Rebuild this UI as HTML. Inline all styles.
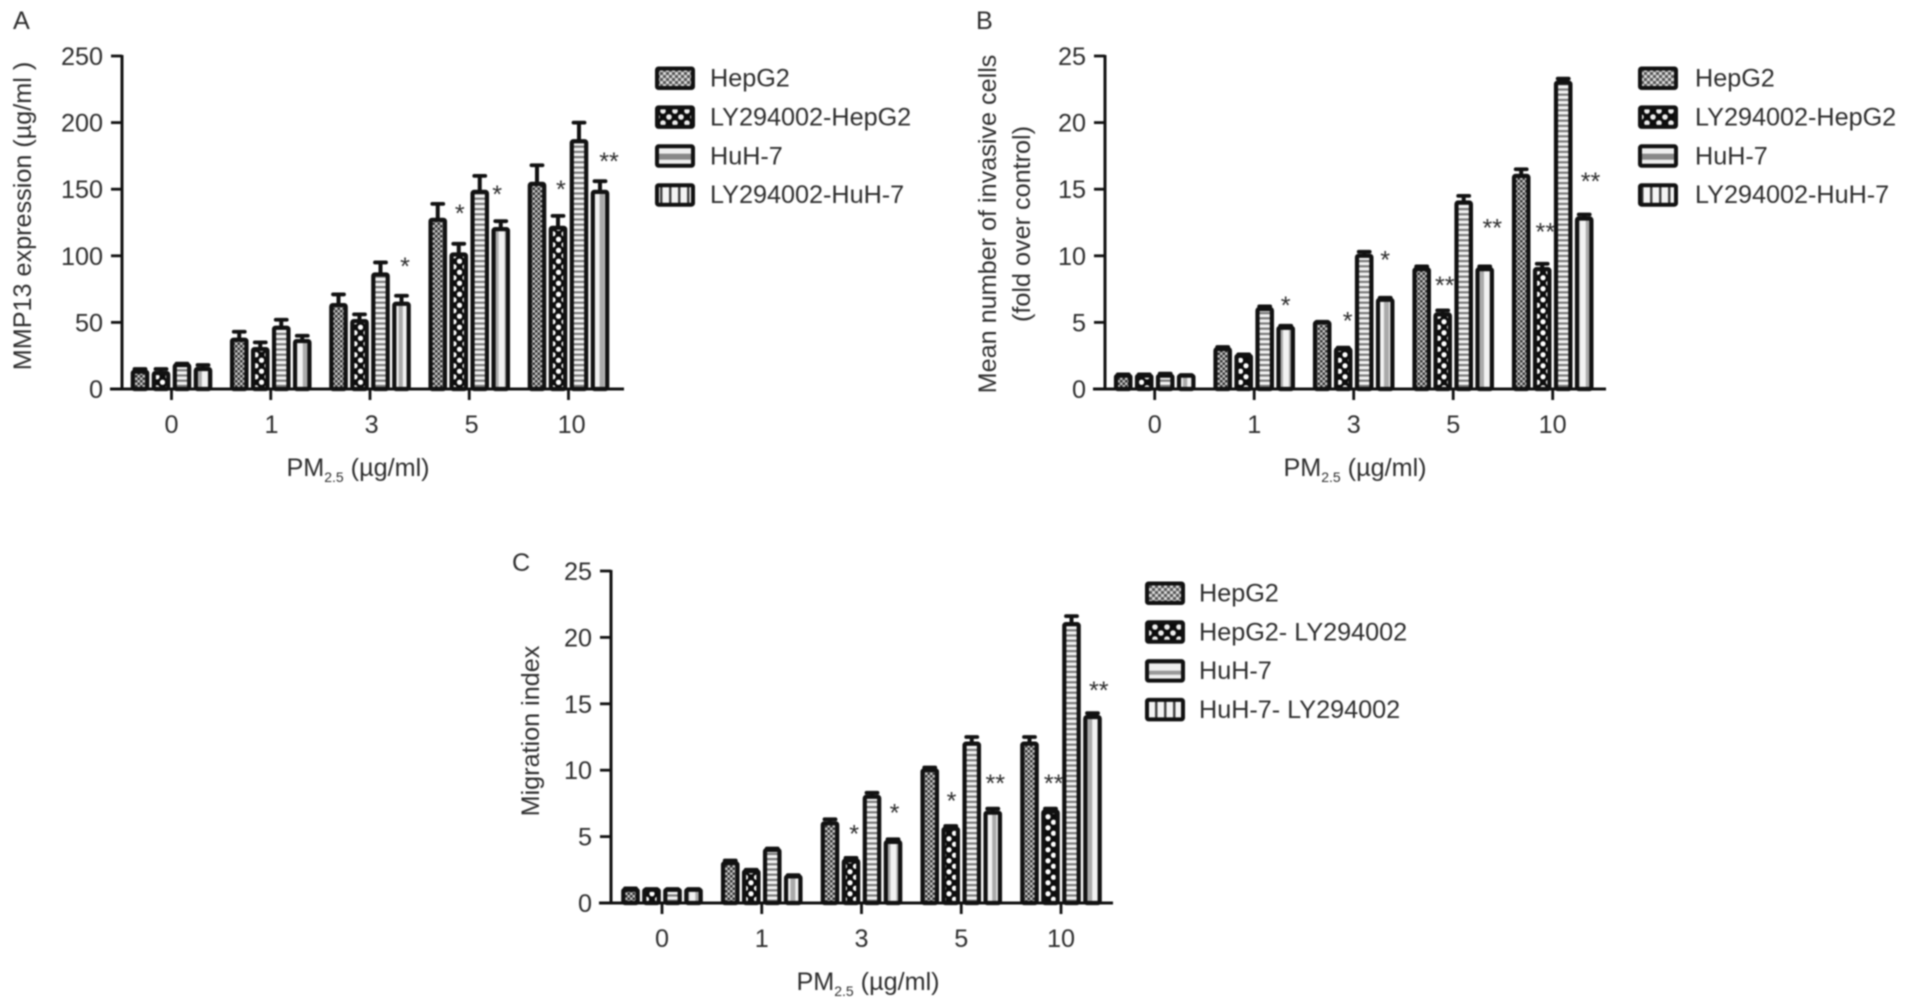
<!DOCTYPE html>
<html lang="en">
<head>
<meta charset="utf-8">
<title>PM2.5 bar charts</title>
<style>
html,body{margin:0;padding:0;background:#fff;width:1908px;height:1008px;overflow:hidden}
svg{display:block;filter:blur(0.8px)}
text{font-family:"Liberation Sans",sans-serif;fill:#2e2e2e;font-size:25.2px}
</style>
</head>
<body>
<svg id="figure" xmlns="http://www.w3.org/2000/svg" width="1908" height="1008" viewBox="0 0 1908 1008">
<defs>
<pattern id="p-hep" patternUnits="userSpaceOnUse" width="5" height="5"><rect width="5" height="5" fill="#c8c8c8"/><rect width="2.5" height="2.5" fill="#333"/><rect x="2.5" y="2.5" width="2.5" height="2.5" fill="#333"/></pattern>
<pattern id="p-ly" patternUnits="userSpaceOnUse" width="11" height="11"><rect width="11" height="11" fill="#0c0c0c"/><circle cx="3" cy="2.75" r="2.6" fill="#fff"/><circle cx="8.5" cy="8.25" r="2.6" fill="#fff"/></pattern>
<pattern id="p-huh" patternUnits="userSpaceOnUse" width="5.2" height="5.2"><rect width="5.2" height="5.2" fill="#f4f4f4"/><rect width="5.2" height="2.2" fill="#777"/></pattern>
<pattern id="p-lyh" patternUnits="userSpaceOnUse" width="21.2" height="6"><rect width="21.2" height="6" fill="#f2f2f2"/><rect x="6" width="5" height="6" fill="#aaa"/><rect x="17" width="4.2" height="6" fill="#aaa"/></pattern>
<pattern id="l-hep" patternUnits="userSpaceOnUse" width="6" height="6"><rect width="6" height="6" fill="#d8d8d8"/><rect width="3" height="3" fill="#555"/><rect x="3" y="3" width="3" height="3" fill="#555"/></pattern>
<pattern id="l-ly" patternUnits="userSpaceOnUse" width="12" height="12"><rect width="12" height="12" fill="#0c0c0c"/><circle cx="3" cy="3" r="2.8" fill="#eee"/><circle cx="9" cy="9" r="2.8" fill="#eee"/></pattern>
<pattern id="l-huh" patternUnits="userSpaceOnUse" width="40" height="24" y="66.7"><rect width="40" height="24" fill="#eee"/><rect y="4" width="40" height="4" fill="#999"/><rect y="15" width="40" height="6" fill="#888"/></pattern>
<pattern id="l-lyh" patternUnits="userSpaceOnUse" width="9" height="9"><rect width="9" height="9" fill="#f4f4f4"/><rect x="3" width="2.5" height="9" fill="#444"/></pattern>
</defs>
</svg>
<script>
var categories = ['0', '1', '3', '5', '10'];

var aYTicks = [0, 50, 100, 150, 200, 250];
var aHepG2 = [13, 37, 63, 127, 154];
var aLyHepG2 = [12, 30, 51, 101, 121];
var aHuh7 = [18, 46, 86, 148, 186];
var aLyHuh7 = [15, 36, 64, 120, 148];
var aHepG2Err = [2, 6, 8, 12, 14];
var aLyHepG2Err = [3, 5, 5, 8, 9];
var aHuh7Err = [1, 6, 9, 12, 14];
var aLyHuh7Err = [3, 4, 6, 6, 8];
var aStarGroups = [2, 3, 3, 4, 4];
var aStarSlots = [3.17, 1.05, 2.83, 1.14, 3.43];
var aStarValues = [93, 133, 147, 151, 172];
var aStarLabels = ['*', '*', '*', '*', '**'];
var aLegend = ['HepG2', 'LY294002-HepG2', 'HuH-7', 'LY294002-HuH-7'];

var bYTicks = [0, 5, 10, 15, 20, 25];
var bHepG2 = [1, 3, 5, 9, 16];
var bLyHepG2 = [1, 2.5, 3, 5.6, 9];
var bHuh7 = [1, 6, 10, 14, 23];
var bLyHuh7 = [1, 4.6, 6.7, 9, 12.8];
var bHepG2Err = [0.1, 0.15, 0.05, 0.2, 0.5];
var bLyHepG2Err = [0.1, 0.1, 0.1, 0.3, 0.4];
var bHuh7Err = [0.15, 0.2, 0.3, 0.5, 0.3];
var bLyHuh7Err = [0.05, 0.15, 0.15, 0.2, 0.3];
var bStarGroups = [1, 2, 2, 3, 3, 4, 4];
var bStarSlots = [3.0, 1.21, 3.0, 1.1, 3.36, 1.15, 3.3];
var bStarValues = [6.4, 5.2, 9.8, 7.9, 12.2, 11.9, 15.7];
var bStarLabels = ['*', '*', '*', '**', '**', '**', '**'];
var bLegend = ['HepG2', 'LY294002-HepG2', 'HuH-7', 'LY294002-HuH-7'];

var cYTicks = [0, 5, 10, 15, 20, 25];
var cHepG2 = [1, 3, 6, 10, 12];
var cLyHepG2 = [1, 2.4, 3.2, 5.6, 6.9];
var cHuh7 = [1, 4, 8, 12, 21];
var cLyHuh7 = [1, 2, 4.6, 6.8, 14];
var cHepG2Err = [0.1, 0.2, 0.3, 0.2, 0.5];
var cLyHepG2Err = [0.05, 0.1, 0.2, 0.2, 0.2];
var cHuh7Err = [0.05, 0.1, 0.3, 0.5, 0.6];
var cLyHuh7Err = [0.05, 0.1, 0.2, 0.3, 0.3];
var cStarGroups = [2, 2, 3, 3, 4, 4];
var cStarSlots = [1.15, 3.07, 1.04, 3.12, 1.15, 3.3];
var cStarValues = [5.3, 6.9, 7.8, 9.1, 9.1, 16.1];
var cStarLabels = ['*', '*', '*', '**', '**', '**'];
var cLegend = ['HepG2', 'HepG2- LY294002', 'HuH-7', 'HuH-7- LY294002'];

var svg = document.getElementById('figure');
var NS = 'http://www.w3.org/2000/svg';
var barFills = ['url(#p-hep)', 'url(#p-ly)', 'url(#p-huh)', 'url(#p-lyh)'];
var legendFills = ['url(#l-hep)', 'url(#l-ly)', 'url(#l-huh)', 'url(#l-lyh)'];
var INK = '#111';

function make(parent, tag, attrs, content) {
  var el = document.createElementNS(NS, tag);
  for (var k in attrs) el.setAttribute(k, attrs[k]);
  if (content !== undefined) el.textContent = content;
  parent.appendChild(el);
  return el;
}

function drawPanel(p) {
  var g = make(svg, 'g', {});
  
  
  var yMax = p.yTicks[p.yTicks.length - 1];
  function yScale(v) { return p.y0 - (v / yMax) * (p.y0 - p.yTop); }
  function xScale(i) { return p.x0 + i * p.step; }
  function slotX(i, s) { return xScale(i) + (s - 1.5) * 21; }

  var letter = make(g, 'text', {x: p.letterX, y: p.letterY, 'font-size': 23}, p.letter);
  
  

  p.series.forEach(function (vals, s) {
    vals.forEach(function (v, i) {
      var cx = slotX(i, s);
      var top = yScale(v);
      var errTop = yScale(v + p.errors[s][i]);
      var errLine = make(g, 'line', {x1: cx, x2: cx, y1: top, y2: errTop, stroke: INK, 'stroke-width': 4});
      
      
      var cap = make(g, 'line', {x1: cx - 5.5, x2: cx + 5.5, y1: errTop, y2: errTop, stroke: INK, 'stroke-width': 3.8, 'stroke-linecap': 'round'});
      
      
      var bar = make(g, 'rect', {x: cx - 7.2, y: top, width: 14.4, height: p.y0 - top, rx: 1.5, fill: barFills[s], stroke: INK, 'stroke-width': 4.2});
      
      
    });
  });

  var yAxis = make(g, 'line', {x1: p.axisX, x2: p.axisX, y1: p.yTop - 1, y2: p.y0 + 1, stroke: INK, 'stroke-width': 3});
  
  
  var xAxis = make(g, 'line', {x1: p.axisX - 12, x2: p.axisEnd, y1: p.y0, y2: p.y0, stroke: INK, 'stroke-width': 3});
  
  

  p.yTicks.forEach(function (t) {
    var tick = make(g, 'line', {x1: p.axisX - 11, x2: p.axisX, y1: yScale(t), y2: yScale(t), stroke: INK, 'stroke-width': 2.8});
    
    
    var lab = make(g, 'text', {x: p.axisX - 19, y: yScale(t) + 9, 'text-anchor': 'end'}, String(t));
    
    
  });

  categories.forEach(function (c, i) {
    var tick = make(g, 'line', {x1: xScale(i), x2: xScale(i), y1: p.y0, y2: p.y0 + 11, stroke: INK, 'stroke-width': 2.8});
    
    
    var lab = make(g, 'text', {x: xScale(i) + i * p.labelDrift, y: p.y0 + 44, 'text-anchor': 'middle'}, c);
    
    
  });

  var xt = make(g, 'text', {x: p.xTitleX, y: p.y0 + 87, 'text-anchor': 'middle'});
  
  
  make(xt, 'tspan', {}, 'PM');
  make(xt, 'tspan', {dy: 6, 'font-size': 14}, '2.5');
  make(xt, 'tspan', {dy: -6}, ' (µg/ml)');

  p.yTitles.forEach(function (t) {
    var yt = make(g, 'text', {transform: 'translate(' + t.x + ' ' + t.y + ') rotate(-90)', 'text-anchor': 'middle'}, t.text);
    
    
  });

  p.starLabels.forEach(function (lbl, k) {
    var st = make(g, 'text', {x: slotX(p.starGroups[k], p.starSlots[k]), y: yScale(p.starValues[k]) + 10, 'text-anchor': 'middle', 'font-size': 28}, lbl);
    
    
  });

  p.legend.forEach(function (name, s) {
    var rowY = p.legendY + s * p.legendGap;
    var sw = make(g, 'rect', {x: p.legendX + 2, y: rowY + 2, width: 36, height: 19.5, rx: 1.5, fill: legendFills[s], stroke: '#111', 'stroke-width': 4});
    
    
    var tx = make(g, 'text', {x: p.legendTextX, y: rowY + 20}, name);
    
    
  });
}

drawPanel({
  id: 'a', letter: 'A', letterX: 13, letterY: 29,
  yTicks: aYTicks, series: [aHepG2, aLyHepG2, aHuh7, aLyHuh7],
  errors: [aHepG2Err, aLyHepG2Err, aHuh7Err, aLyHuh7Err],
  starGroups: aStarGroups, starSlots: aStarSlots, starValues: aStarValues, starLabels: aStarLabels,
  legend: aLegend, labelDrift: 0.8,
  axisX: 122, axisEnd: 624, y0: 389, yTop: 56, x0: 171.5, step: 99.25, xTitleX: 358,
  yTitles: [{x: 31, y: 216, text: 'MMP13 expression (µg/ml )'}],
  legendX: 655, legendY: 66.5, legendGap: 38.9, legendTextX: 710
});
drawPanel({
  id: 'b', letter: 'B', letterX: 976, letterY: 29,
  yTicks: bYTicks, series: [bHepG2, bLyHepG2, bHuh7, bLyHuh7],
  errors: [bHepG2Err, bLyHepG2Err, bHuh7Err, bLyHuh7Err],
  starGroups: bStarGroups, starSlots: bStarSlots, starValues: bStarValues, starLabels: bStarLabels,
  legend: bLegend, labelDrift: 0,
  axisX: 1105, axisEnd: 1606, y0: 389, yTop: 56, x0: 1154.7, step: 99.5, xTitleX: 1355,
  yTitles: [{x: 996, y: 224, text: 'Mean number of invasive cells'}, {x: 1030, y: 224, text: '(fold over control)'}],
  legendX: 1638, legendY: 66.5, legendGap: 38.9, legendTextX: 1695
});
drawPanel({
  id: 'c', letter: 'C', letterX: 512, letterY: 571,
  yTicks: cYTicks, series: [cHepG2, cLyHepG2, cHuh7, cLyHuh7],
  errors: [cHepG2Err, cLyHepG2Err, cHuh7Err, cLyHuh7Err],
  starGroups: cStarGroups, starSlots: cStarSlots, starValues: cStarValues, starLabels: cStarLabels,
  legend: cLegend, labelDrift: 0,
  axisX: 611, axisEnd: 1113, y0: 903, yTop: 571, x0: 662, step: 99.75, xTitleX: 868,
  yTitles: [{x: 539, y: 731, text: 'Migration index'}],
  legendX: 1145, legendY: 581.5, legendGap: 38.8, legendTextX: 1199
});
</script>
</body>
</html>
